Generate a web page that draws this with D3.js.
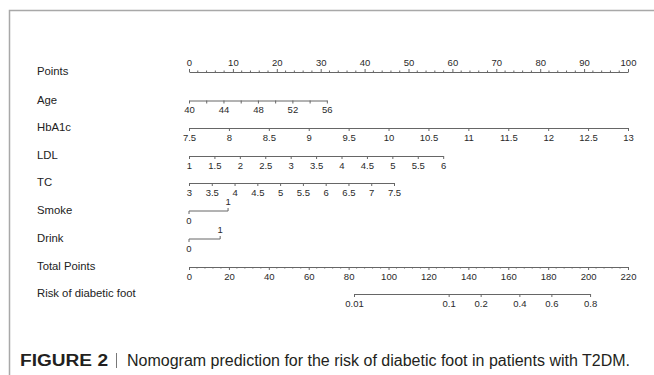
<!DOCTYPE html>
<html>
<head>
<meta charset="utf-8">
<script src="https://cdn.jsdelivr.net/npm/d3@7"></script>
<style>
  html, body { margin: 0; padding: 0; background: #fff; }
  svg { display: block; font-family: "Liberation Sans", Arial, sans-serif; }
  .axis path, .axis line { stroke: #666; stroke-width: 1; }
  .axis text { fill: #2a2a2a; font-size: 9.5px; font-family: "Liberation Sans", Arial, sans-serif; }
  .rowlab { fill: #222; font-size: 11.3px; }
</style>
</head>
<body>
<svg id="chart" width="654" height="375"></svg>
<script>
// nomogram rows (value range -> points range)
var rowNames = ["Points", "Age", "HbA1c", "LDL", "TC", "Smoke", "Drink", "Total Points", "Risk of diabetic foot"];

var pointTicks = [0, 10, 20, 30, 40, 50, 60, 70, 80, 90, 100];
var pointMinor = [2, 4, 6, 8, 12, 14, 16, 18, 22, 24, 26, 28, 32, 34, 36, 38, 42, 44, 46, 48,
                  52, 54, 56, 58, 62, 64, 66, 68, 72, 74, 76, 78, 82, 84, 86, 88, 92, 94, 96, 98];

var ageValues = [40, 56], agePoints = [0, 31.4];
var ageTicks = [40, 42, 44, 46, 48, 50, 52, 54, 56];
var ageLabels = [40, 44, 48, 52, 56];

var hbaValues = [7.5, 13], hbaPoints = [0, 100];
var hbaTicks = [7.5, 8, 8.5, 9, 9.5, 10, 10.5, 11, 11.5, 12, 12.5, 13];

var ldlValues = [1, 6], ldlPoints = [0, 57.9];
var ldlTicks = [1, 1.5, 2, 2.5, 3, 3.5, 4, 4.5, 5, 5.5, 6];

var tcValues = [3, 7.5], tcPoints = [0, 46.7];
var tcTicks = [3, 3.5, 4, 4.5, 5, 5.5, 6, 6.5, 7, 7.5];

var smokeValues = [0, 1], smokePoints = [0, 8.9];
var drinkValues = [0, 1], drinkPoints = [0, 7.1];

var totalTicks = [0, 20, 40, 60, 80, 100, 120, 140, 160, 180, 200, 220];
var totalMinor = [4, 8, 12, 16, 24, 28, 32, 36, 44, 48, 52, 56, 64, 68, 72, 76, 84, 88, 92, 96,
                  104, 108, 112, 116, 124, 128, 132, 136, 144, 148, 152, 156, 164, 168, 172, 176,
                  184, 188, 192, 196, 204, 208, 212, 216];

var riskTicks = [0.01, 0.1, 0.2, 0.4, 0.6, 0.8];
var lpIntercept = -8.776, lpSlope = 0.05056;   // linear predictor per total point

var svg = d3.select("#chart");
var x0 = 189, x1 = 628;
var rowY = [72, 100.5, 128, 156, 183, 211, 239, 267, 294];

var ptsScale = d3.scaleLinear().domain([0, 100]).range([x0, x1]);
var totScale = d3.scaleLinear().domain([0, 220]).range([x0, x1]);

// frame
svg.append("path")
    .attr("d", "M9.5,375 L9.5,10.5 L654,10.5")
    .attr("fill", "none").attr("stroke", "#a8a8a8").attr("stroke-width", 1.5);

// row labels
svg.selectAll("text.rowlab").data(rowNames).enter().append("text")
    .attr("class", "rowlab")
    .attr("x", 37)
    .attr("y", function(d, i) { return rowY[i] + 0.5; })
    .attr("dominant-baseline", "middle")
    .text(function(d) { return d; });

function varScale(values, points) {
    return d3.scaleLinear().domain(values).range(points.map(ptsScale));
}

function fmt(d) { return d3.format("~g")(d); }

// Points axis (top)
var gp = svg.append("g").attr("class", "axis").attr("transform", "translate(0," + rowY[0] + ")");
gp.call(d3.axisTop(ptsScale).tickValues(pointTicks).tickSize(3).tickSizeOuter(0).tickPadding(3).tickFormat(fmt));
gp.selectAll(".minor").data(pointMinor).enter().append("line")
    .attr("x1", ptsScale).attr("x2", ptsScale).attr("y1", 0).attr("y2", -1.5)
    .attr("stroke", "#666");

// continuous variables
function contAxis(i, scale, ticks, labels) {
    var g = svg.append("g").attr("class", "axis").attr("transform", "translate(0," + rowY[i] + ")");
    g.call(d3.axisBottom(scale).tickValues(ticks).tickSize(3).tickSizeOuter(0).tickPadding(3)
        .tickFormat(function(d) { return labels.indexOf(d) >= 0 ? fmt(d) : ""; }));
    return g;
}
contAxis(1, varScale(ageValues, agePoints), ageTicks, ageLabels);
contAxis(2, varScale(hbaValues, hbaPoints), hbaTicks, hbaTicks);
contAxis(3, varScale(ldlValues, ldlPoints), ldlTicks, ldlTicks);
contAxis(4, varScale(tcValues, tcPoints), tcTicks, tcTicks);

// binary variables: 0 below, 1 above
function binAxis(i, values, points) {
    var s = varScale(values, points);
    var g = svg.append("g").attr("class", "axis").attr("transform", "translate(0," + rowY[i] + ")");
    g.append("path").attr("d", "M" + s(values[0]) + ",0H" + s(values[1])).attr("fill", "none");
    g.append("line").attr("x1", s(values[0])).attr("x2", s(values[0])).attr("y1", 0).attr("y2", 3);
    g.append("line").attr("x1", s(values[1])).attr("x2", s(values[1])).attr("y1", 0).attr("y2", -3);
    g.append("text").attr("x", s(values[0])).attr("y", 6).attr("dy", "0.71em")
        .attr("text-anchor", "middle").text(values[0]);
    g.append("text").attr("x", s(values[1])).attr("y", -6)
        .attr("text-anchor", "middle").text(values[1]);
}
binAxis(5, smokeValues, smokePoints);
binAxis(6, drinkValues, drinkPoints);

// Total points
var gt = svg.append("g").attr("class", "axis").attr("transform", "translate(0," + rowY[7] + ")");
gt.call(d3.axisBottom(totScale).tickValues(totalTicks).tickSize(3).tickSizeOuter(0).tickPadding(3).tickFormat(fmt));
gt.selectAll(".minor").data(totalMinor).enter().append("line")
    .attr("x1", totScale).attr("x2", totScale).attr("y1", 0).attr("y2", 1.5)
    .attr("stroke", "#666");

// Risk: position through the logistic link onto the total points scale
function riskX(p) {
    var lp = Math.log(p / (1 - p));
    return totScale((lp - lpIntercept) / lpSlope);
}
var riskScale = function(p) { return riskX(p); };
riskScale.range = function() { return [riskX(riskTicks[0]), riskX(riskTicks[riskTicks.length - 1])]; };
riskScale.domain = function() { return [riskTicks[0], riskTicks[riskTicks.length - 1]]; };
riskScale.copy = function() { return riskScale; };
var gr = svg.append("g").attr("class", "axis").attr("transform", "translate(0," + rowY[8] + ")");
gr.call(d3.axisBottom(riskScale).tickValues(riskTicks).tickSize(3).tickSizeOuter(0).tickPadding(3)
    .tickFormat(function(d) { return String(d); }));

// caption
var cap = svg.append("g").attr("transform", "translate(0,366)");
cap.append("text").attr("x", 20).attr("y", 0)
    .attr("font-size", 16).attr("font-weight", "bold").attr("fill", "#231f20")
    .attr("textLength", 88).attr("lengthAdjust", "spacingAndGlyphs")
    .text("FIGURE 2");
cap.append("line").attr("x1", 116.5).attr("x2", 116.5).attr("y1", -13).attr("y2", 2)
    .attr("stroke", "#555").attr("stroke-width", 0.8);
cap.append("text").attr("x", 127).attr("y", 0)
    .attr("font-size", 16).attr("fill", "#231f20")
    .attr("textLength", 503).attr("lengthAdjust", "spacingAndGlyphs")
    .text("Nomogram prediction for the risk of diabetic foot in patients with T2DM.");
</script>
</body>
</html>
